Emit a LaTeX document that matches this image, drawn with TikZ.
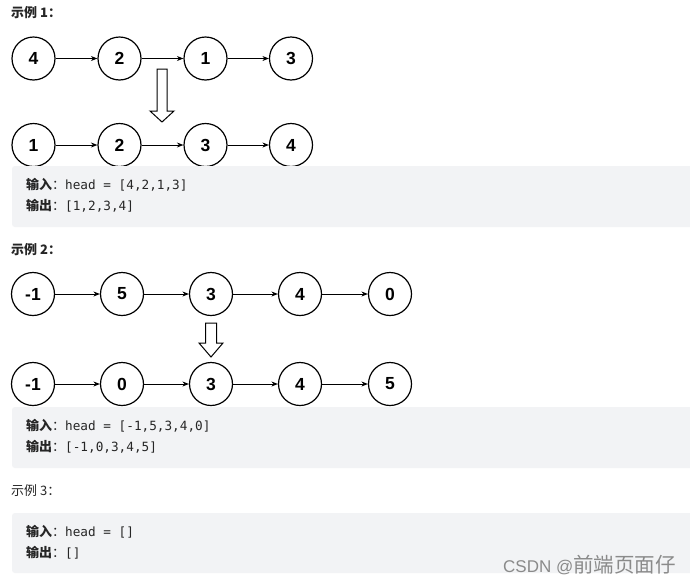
\documentclass[tikz,border=0pt]{standalone}
\usepackage{fontspec}
\setmainfont{Liberation Sans}
\newfontfamily\cjk{Noto Sans CJK SC}
\newfontfamily\mono{DejaVu Sans Mono}
\usetikzlibrary{arrows.meta}
\definecolor{boxgray}{HTML}{F2F3F5}
\definecolor{txt}{HTML}{262626}
\definecolor{wm}{HTML}{8A8A8A}
\newcommand{\lbl}[1]{{\cjk\bfseries #1}{\cjk ：}}
\newcommand{\cd}[1]{{\mono\fontsize{12.7}{12.7}\selectfont #1}}
\begin{document}
\begin{tikzpicture}[x=1pt,y=-1pt,
  ln/.style={circle, draw, line width=1.2pt, minimum size=43pt, inner sep=0pt,
    font=\bfseries\fontsize{17.5}{17.5}\selectfont},
  lk/.style={-{Stealth[length=6.5pt,width=5pt]}, line width=0.9pt},
  codebox/.style={fill=boxgray, rounded corners=3pt},
  head/.style={anchor=west, inner sep=0pt, text=txt, font=\cjk\fontsize{13}{13}\selectfont},
  code/.style={anchor=west, inner sep=0pt, text=txt, font=\fontsize{13}{13}\selectfont},
  hollow/.style={draw, line width=1pt, fill=white, line join=miter}
]
\useasboundingbox (0,0) rectangle (690,584);
\clip (0,0) rectangle (690,584);
\fill[white] (0,0) rectangle (690,584);

% ---------- Example 1 ----------
\node[head, font=\cjk\bfseries\fontsize{13}{13}\selectfont] (h1) at (11,13) {示例 1：};
\node[ln] (a1) at (33.5,58.5) {4};
\node[ln] (a2) at (119.5,58.5) {2};
\node[ln] (a3) at (205.5,58.5) {1};
\node[ln] (a4) at (291,58.5) {3};
\draw[lk] (a1) -- (a2);
\draw[lk] (a2) -- (a3);
\draw[lk] (a3) -- (a4);
\draw[hollow] (157,69) -- (167,69) -- (167,111) -- (174,111) -- (162,122) -- (150,111) -- (157,111) -- cycle;
\node[ln] (b1) at (33.5,145) {1};
\node[ln] (b2) at (119.5,145) {2};
\node[ln] (b3) at (205.5,145) {3};
\node[ln] (b4) at (291,145) {4};
\draw[lk] (b1) -- (b2);
\draw[lk] (b2) -- (b3);
\draw[lk] (b3) -- (b4);
\fill[codebox] (12,166) rectangle (700,227);
\node[code] (c1) at (26,185) {\lbl{输入}\cd{head = [4,2,1,3]}};
\node[code] (c2) at (26,206) {\lbl{输出}\cd{[1,2,3,4]}};

% ---------- Example 2 ----------
\node[head, font=\cjk\bfseries\fontsize{13}{13}\selectfont] (h2) at (11,250) {示例 2：};
\node[ln] (d1) at (33,294) {-1};
\node[ln] (d2) at (122,294) {5};
\node[ln] (d3) at (211,294) {3};
\node[ln] (d4) at (300,294) {4};
\node[ln] (d5) at (390,294) {0};
\draw[lk] (d1) -- (d2);
\draw[lk] (d2) -- (d3);
\draw[lk] (d3) -- (d4);
\draw[lk] (d4) -- (d5);
\draw[hollow] (205.5,323) -- (216.5,323) -- (216.5,343) -- (223,343) -- (211,357) -- (199,343) -- (205.5,343) -- cycle;
\node[ln] (e1) at (33,384) {-1};
\node[ln] (e2) at (122,384) {0};
\node[ln] (e3) at (211,384) {3};
\node[ln] (e4) at (300,384) {4};
\node[ln] (e5) at (390,384) {5};
\draw[lk] (e1) -- (e2);
\draw[lk] (e2) -- (e3);
\draw[lk] (e3) -- (e4);
\draw[lk] (e4) -- (e5);
\fill[codebox] (12,407) rectangle (700,468);
\node[code] (f1) at (26,426) {\lbl{输入}\cd{head = [-1,5,3,4,0]}};
\node[code] (f2) at (26,447) {\lbl{输出}\cd{[-1,0,3,4,5]}};

% ---------- Example 3 ----------
\node[head] (h3) at (11,491) {示例 3：};
\fill[codebox] (12,513) rectangle (700,573);
\node[code] (g1) at (26,532) {\lbl{输入}\cd{head = []}};
\node[code] (g2) at (26,553) {\lbl{输出}\cd{[]}};

% ---------- watermark ----------
\node[anchor=east, inner sep=0pt, text=wm] (wm) at (676,565)
  {\fontsize{17}{17}\selectfont CSDN @{\cjk\fontsize{20.5}{20.5}\selectfont 前端页面仔}};
\end{tikzpicture}
\end{document}
